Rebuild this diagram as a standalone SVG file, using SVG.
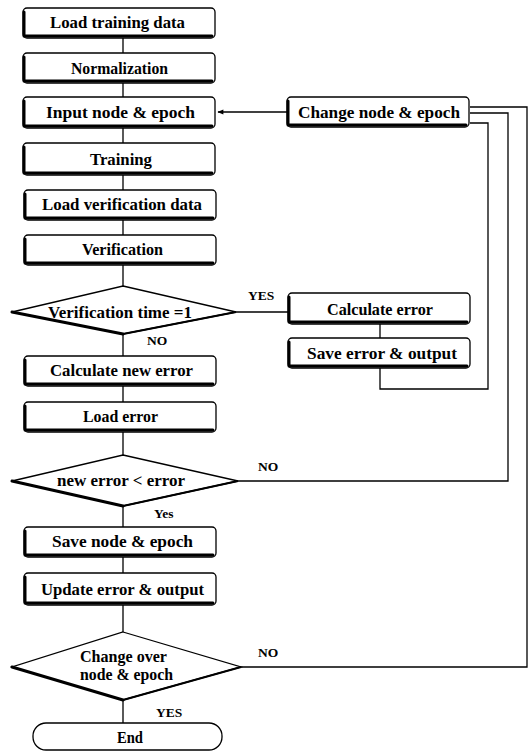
<svg xmlns="http://www.w3.org/2000/svg" width="530" height="752" viewBox="0 0 530 752">
<defs>
<style>
.bx{fill:#fff;stroke:#000;stroke-width:1.3}
.sh{fill:none;stroke:#000;stroke-width:3;stroke-linecap:round;stroke-linejoin:round}
.sh2{fill:none;stroke:#000;stroke-width:2}
.t{font-family:"Liberation Serif","DejaVu Serif",serif;font-weight:bold;font-size:16px;fill:#000;text-anchor:middle}
.l{font-family:"Liberation Serif","DejaVu Serif",serif;font-weight:bold;font-size:13.5px;fill:#000}
.c{fill:none;stroke:#000;stroke-width:1.3}
</style>
<marker id="ah" viewBox="0 0 10 10" refX="9" refY="5" markerWidth="8" markerHeight="6" orient="auto" markerUnits="userSpaceOnUse">
<path d="M0,1 L10,5 L0,9 z" fill="#000"/>
</marker>
</defs>
<rect width="530" height="752" fill="#fff"/>
<g id="connectors">
<line class="c" x1="123" y1="38" x2="123" y2="53"/>
<line class="c" x1="123" y1="83" x2="123" y2="97"/>
<line class="c" x1="123" y1="128" x2="123" y2="143"/>
<line class="c" x1="123" y1="175" x2="123" y2="190"/>
<line class="c" x1="123" y1="220" x2="123" y2="235"/>
<line class="c" x1="123" y1="265" x2="123" y2="286"/>
<line class="c" x1="123" y1="334" x2="123" y2="356"/>
<line class="c" x1="123" y1="386" x2="123" y2="402"/>
<line class="c" x1="123" y1="432" x2="123" y2="455"/>
<line class="c" x1="123" y1="506" x2="123" y2="527"/>
<line class="c" x1="123" y1="557" x2="123" y2="573"/>
<line class="c" x1="123" y1="605" x2="123" y2="632"/>
<line class="c" x1="123" y1="700" x2="123" y2="723"/>
<line class="c" x1="236" y1="312" x2="288" y2="312"/>
<line class="c" x1="380" y1="324" x2="380" y2="338"/>
<polyline class="c" points="380,368 380,389 488,389 488,123 470,123"/>
<polyline class="c" points="238,481 508,481 508,113 470,113"/>
<polyline class="c" points="241,667 527,667 527,107 470,107"/>
<line class="c" x1="287" y1="112" x2="218" y2="112" marker-end="url(#ah)"/>
</g>
<g id="n1"><rect class="bx" x="23" y="8" width="192" height="30" rx="4"/><path class="sh" d="M24,12 V36 H212"/><text class="t" x="117.5" y="28" textLength="135" lengthAdjust="spacingAndGlyphs">Load training data</text></g>
<g id="n2"><rect class="bx" x="23" y="53" width="192" height="30" rx="4"/><path class="sh" d="M24,57 V81 H212"/><text class="t" x="119.5" y="74" textLength="97" lengthAdjust="spacingAndGlyphs">Normalization</text></g>
<g id="n3"><rect class="bx" x="23" y="97" width="192" height="31" rx="4"/><path class="sh" d="M24,101 V126 H212"/><text class="t" x="120.5" y="118" textLength="149" lengthAdjust="spacingAndGlyphs">Input node &amp; epoch</text></g>
<g id="n4"><rect class="bx" x="23" y="143" width="192" height="32" rx="4"/><path class="sh" d="M24,147 V173 H212"/><text class="t" x="121" y="165" textLength="62" lengthAdjust="spacingAndGlyphs">Training</text></g>
<g id="n5"><rect class="bx" x="24" y="190" width="192" height="30" rx="4"/><path class="sh" d="M25,194 V218 H213"/><text class="t" x="122" y="210" textLength="160" lengthAdjust="spacingAndGlyphs">Load verification data</text></g>
<g id="n6"><rect class="bx" x="24" y="235" width="192" height="30" rx="4"/><path class="sh" d="M25,239 V263 H213"/><text class="t" x="122.5" y="255" textLength="81" lengthAdjust="spacingAndGlyphs">Verification</text></g>
<g id="d1"><polygon class="bx" points="123,286 236,312 123,334 12,312"/><path class="sh" d="M12,312 L123,334"/><path class="sh2" d="M123,334 L236,312"/><text class="t" x="120" y="318" textLength="144" lengthAdjust="spacingAndGlyphs">Verification time =1</text><text class="l" x="248" y="300">YES</text><text class="l" x="147" y="345">NO</text></g>
<g id="n7"><rect class="bx" x="288" y="293" width="182" height="31" rx="4"/><path class="sh" d="M289,297 V322 H467"/><text class="t" x="380" y="315" textLength="106" lengthAdjust="spacingAndGlyphs">Calculate error</text></g>
<g id="n8"><rect class="bx" x="288" y="338" width="182" height="30" rx="4"/><path class="sh" d="M289,342 V366 H467"/><text class="t" x="382" y="359" textLength="150" lengthAdjust="spacingAndGlyphs">Save error &amp; output</text></g>
<g id="n9"><rect class="bx" x="287" y="97" width="182" height="30" rx="4"/><path class="sh" d="M288,101 V125 H466"/><text class="t" x="379" y="118" textLength="162" lengthAdjust="spacingAndGlyphs">Change node &amp; epoch</text></g>
<g id="n10"><rect class="bx" x="24" y="356" width="192" height="30" rx="4"/><path class="sh" d="M25,360 V384 H213"/><text class="t" x="121.5" y="376" textLength="143" lengthAdjust="spacingAndGlyphs">Calculate new error</text></g>
<g id="n11"><rect class="bx" x="24" y="402" width="192" height="30" rx="4"/><path class="sh" d="M25,406 V430 H213"/><text class="t" x="120.5" y="422" textLength="75" lengthAdjust="spacingAndGlyphs">Load error</text></g>
<g id="d2"><polygon class="bx" points="123,455 238,481 123,506 12,481"/><path class="sh" d="M12,481 L123,506"/><path class="sh2" d="M123,506 L238,481"/><text class="t" x="121" y="486" textLength="128" lengthAdjust="spacingAndGlyphs">new error &lt; error</text><text class="l" x="258" y="471">NO</text><text class="l" x="154" y="518">Yes</text></g>
<g id="n12"><rect class="bx" x="24" y="527" width="192" height="30" rx="4"/><path class="sh" d="M25,531 V555 H213"/><text class="t" x="122.5" y="547" textLength="141" lengthAdjust="spacingAndGlyphs">Save node &amp; epoch</text></g>
<g id="n13"><rect class="bx" x="24" y="573" width="192" height="32" rx="4"/><path class="sh" d="M25,577 V603 H213"/><text class="t" x="122.5" y="595" textLength="163" lengthAdjust="spacingAndGlyphs">Update error &amp; output</text></g>
<g id="d3"><polygon class="bx" points="123,632 241,667 123,700 12,667"/><path class="sh" d="M12,667 L123,700"/><path class="sh2" d="M123,700 L241,667"/><text class="t" x="123.5" y="662" textLength="87" lengthAdjust="spacingAndGlyphs">Change over</text><text class="t" x="126.5" y="680" textLength="93" lengthAdjust="spacingAndGlyphs">node &amp; epoch</text><text class="l" x="258" y="657">NO</text><text class="l" x="156" y="717">YES</text></g>
<g id="n14"><rect class="bx" x="33" y="723" width="189" height="27" rx="13"/><text class="t" x="130" y="743" textLength="26" lengthAdjust="spacingAndGlyphs">End</text></g>
</svg>
